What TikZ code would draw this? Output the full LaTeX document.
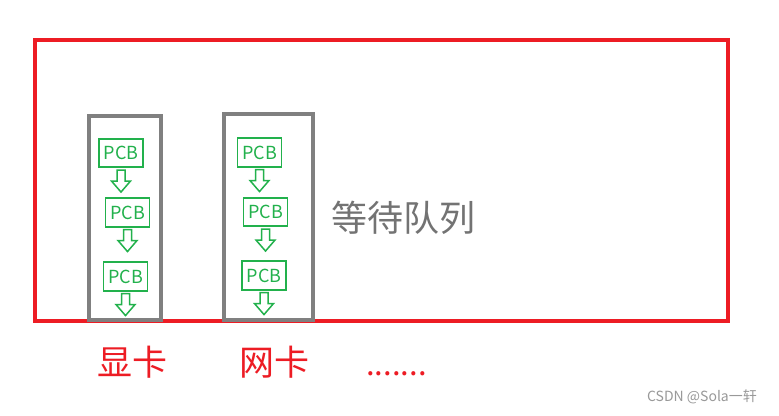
\documentclass[tikz,border=0pt]{standalone}
\usepackage{fontspec}
\newfontfamily\cjk{Noto Sans CJK SC}
\definecolor{qred}{RGB}{237,28,36}
\definecolor{qgray}{RGB}{128,128,128}
\definecolor{pcbgreen}{RGB}{34,177,76}
\tikzset{
  pcb/.style={draw=pcbgreen,line width=1.6,text=pcbgreen,minimum width=44,minimum height=28.5,inner sep=0,font=\cjk\fontsize{18}{18}\selectfont},
  devbox/.style={draw=qgray,line width=4,inner sep=0},
  devlabel/.style={text=qred,font=\cjk\fontsize{35}{35}\selectfont},
  blockarr/.pic={\draw[pcbgreen,line width=1.5,fill=white] (-4,0) -- (-4,11) -- (-9.5,11) -- (0,22) -- (9.5,11) -- (4,11) -- (4,0) -- cycle;}
}
\begin{document}
\begin{tikzpicture}[x=1pt,y=-1pt]
\useasboundingbox[fill=white] (0,0) rectangle (779,415);
% waiting queue
\node[draw=qred,line width=4,inner sep=0,minimum width=693,minimum height=281] (queue) at (381.5,180.5) {};
\node[text=qgray!90!black,font=\cjk\fontsize{36}{36}\selectfont] (wait) at (403,218) {等待队列};
% devices
\node[devbox,minimum width=72,minimum height=204] (gpu) at (125,218) {};
\node[devbox,minimum width=89,minimum height=206] (nic) at (268.5,217) {};
% pcb chains
\node[pcb] (g1) at (121,153) {PCB};
\node[pcb] (g2) at (127.5,212.5) {PCB};
\node[pcb] (g3) at (125.5,276.5) {PCB};
\node[pcb] (n1) at (259.5,152.5) {PCB};
\node[pcb] (n2) at (265.5,212) {PCB};
\node[pcb] (n3) at (264,275.5) {PCB};
\foreach \p in {g1,g2,g3,n1,n2,n3}
  \pic at ([yshift=-2]\p.south) {blockarr};
% labels
\node[devlabel] (gpulbl) at (132,362) {显卡};
\node[devlabel] (niclbl) at (274,362) {网卡};
\node[text=qred,font=\cjk\fontsize{31}{31}\selectfont,anchor=base,inner sep=0] (more) at (396.5,375) {.......};
\node[text=black!40,font=\fontsize{14}{14}\selectfont\cjk] (mark) at (702,397) {CSDN @Sola一轩};
\end{tikzpicture}
\end{document}
